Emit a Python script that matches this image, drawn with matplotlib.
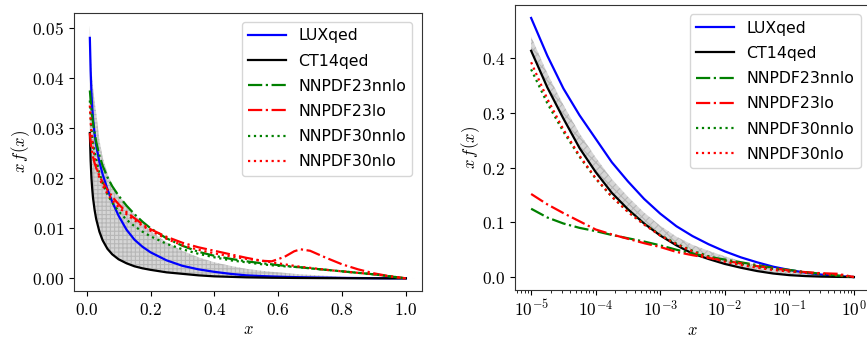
import numpy as np
import matplotlib
matplotlib.use("Agg")
import matplotlib.pyplot as plt
from matplotlib.ticker import FuncFormatter

plt.rcParams['mathtext.fontset'] = 'cm'
plt.rcParams['font.family'] = ['DejaVu Sans']
plt.rcParams['hatch.color'] = '#8f8f8f'
plt.rcParams['hatch.linewidth'] = 0.8

labels = ["LUXqed", "CT14qed", "NNPDF23nnlo", "NNPDF23lo", "NNPDF30nnlo", "NNPDF30nlo"]

# ---------------- left panel (linear x) ----------------
xl = [0.01, 0.0125, 0.015, 0.0175, 0.02, 0.025, 0.03, 0.04, 0.05, 0.065, 0.08, 0.1, 0.125, 0.15,
      0.175, 0.2, 0.25, 0.3, 0.35, 0.4, 0.45, 0.5, 0.55, 0.58, 0.62, 0.65, 0.67, 0.7, 0.75, 0.8,
      0.85, 0.9, 0.95, 1.0]
lux_l   = [0.0480, 0.0415, 0.0370, 0.0340, 0.0318, 0.0288, 0.0265, 0.0232, 0.0208, 0.0178, 0.0153,
           0.0125, 0.0097, 0.0077, 0.0063, 0.0052, 0.0036, 0.0025, 0.0018, 0.0013, 0.0009, 0.0006,
           0.00045, 0.00038, 0.0003, 0.00025, 0.00022, 0.00018, 0.00013, 0.00009, 0.00006, 0.00003,
           0.00001, 0.0]
ct14_l  = [0.0290, 0.0235, 0.0200, 0.0178, 0.0160, 0.0136, 0.0118, 0.0093, 0.0076, 0.0059, 0.0048,
           0.0038, 0.0030, 0.0024, 0.0020, 0.0017, 0.0012, 0.0009, 0.0006, 0.0004, 0.0003, 0.0002,
           0.00015, 0.00012, 0.0001, 0.00008, 0.00007, 0.00006, 0.00004, 0.00003, 0.00002, 0.00001,
           0.0, 0.0]
n23nnlo = [0.0375, 0.0355, 0.0338, 0.0323, 0.0310, 0.0290, 0.0272, 0.0245, 0.0225, 0.0202, 0.0184,
           0.0165, 0.0145, 0.0128, 0.0113, 0.0100, 0.0080, 0.0065, 0.0053, 0.0045, 0.0039, 0.0034,
           0.0030, 0.0028, 0.0025, 0.0023, 0.0022, 0.0020, 0.0017, 0.0014, 0.0011, 0.0008, 0.0004, 0.0]
n23lo   = [0.0290, 0.0272, 0.0260, 0.0250, 0.0242, 0.0230, 0.0220, 0.0205, 0.0192, 0.0177, 0.0163,
           0.0148, 0.0132, 0.0120, 0.0108, 0.0098, 0.0083, 0.0071, 0.0062, 0.0055, 0.0048, 0.0041,
           0.0035, 0.0034, 0.0043, 0.0054, 0.0058, 0.0055, 0.0041, 0.0028, 0.0018, 0.0010, 0.0004, 0.0]
n30nnlo = [0.0355, 0.0325, 0.0300, 0.0283, 0.0270, 0.0252, 0.0238, 0.0210, 0.0190, 0.0168, 0.0151,
           0.0134, 0.0117, 0.0104, 0.0093, 0.0084, 0.0069, 0.0058, 0.0049, 0.0042, 0.0036, 0.0032,
           0.0028, 0.0026, 0.0024, 0.0023, 0.0022, 0.0020, 0.0017, 0.0014, 0.0011, 0.0008, 0.0004, 0.0]
n30nlo  = [0.0345, 0.0312, 0.0290, 0.0273, 0.0260, 0.0240, 0.0225, 0.0200, 0.0185, 0.0169, 0.0156,
           0.0142, 0.0128, 0.0116, 0.0105, 0.0095, 0.0079, 0.0066, 0.0057, 0.0050, 0.0044, 0.0039,
           0.0035, 0.0032, 0.0028, 0.0025, 0.0023, 0.0021, 0.0017, 0.0014, 0.0011, 0.0008, 0.0004, 0.0]
band_lo_l = ct14_l
band_hi_l = [0.0505, 0.0455, 0.0420, 0.0398, 0.0380, 0.0352, 0.0330, 0.0276, 0.0242, 0.0210, 0.0186,
             0.0165, 0.0147, 0.0128, 0.0110, 0.0095, 0.0072, 0.0055, 0.0042, 0.0032, 0.0025, 0.0019,
             0.0015, 0.0013, 0.0011, 0.0009, 0.0008, 0.0007, 0.0005, 0.0003, 0.0002, 0.0001, 0.00005, 0.0]

# ---------------- right panel (log x) ----------------
xr = [1e-5, 1.78e-5, 3.16e-5, 5.62e-5, 1e-4, 1.78e-4, 3.16e-4, 5.62e-4, 1e-3, 1.78e-3, 3.16e-3,
      5.62e-3, 1e-2, 1.78e-2, 3.16e-2, 5.62e-2, 1e-1, 1.78e-1, 3.16e-1, 5.62e-1, 1.0]
lux_r   = [0.474, 0.405, 0.345, 0.296, 0.253, 0.210, 0.175, 0.143, 0.116, 0.093, 0.075, 0.060,
           0.047, 0.036, 0.027, 0.019, 0.013, 0.008, 0.0045, 0.0018, 0.0]
ct14_r  = [0.414, 0.347, 0.290, 0.236, 0.192, 0.154, 0.124, 0.098, 0.076, 0.058, 0.043, 0.033,
           0.024, 0.017, 0.011, 0.0065, 0.0035, 0.0018, 0.0008, 0.0003, 0.0]
n23nnlo_r = [0.125, 0.109, 0.098, 0.090, 0.084, 0.077, 0.071, 0.065, 0.058, 0.050, 0.043, 0.037,
             0.032, 0.027, 0.022, 0.017, 0.013, 0.009, 0.006, 0.003, 0.0]
n23lo_r = [0.152, 0.133, 0.117, 0.102, 0.087, 0.078, 0.070, 0.062, 0.055, 0.046, 0.040, 0.035,
           0.030, 0.025, 0.020, 0.016, 0.012, 0.009, 0.007, 0.006, 0.0]
n30nnlo_r = [0.380, 0.318, 0.266, 0.220, 0.180, 0.147, 0.120, 0.097, 0.077, 0.061, 0.048, 0.038,
             0.030, 0.024, 0.019, 0.015, 0.011, 0.008, 0.005, 0.0025, 0.0]
n30nlo_r = [0.393, 0.326, 0.270, 0.222, 0.181, 0.147, 0.119, 0.096, 0.076, 0.060, 0.047, 0.036,
            0.028, 0.022, 0.017, 0.013, 0.010, 0.008, 0.006, 0.004, 0.0]
band_lo_r = ct14_r
band_hi_r = [0.440, 0.373, 0.315, 0.263, 0.219, 0.179, 0.147, 0.118, 0.094, 0.074, 0.059, 0.048,
             0.038, 0.029, 0.022, 0.016, 0.011, 0.0068, 0.0038, 0.0015, 0.0]

styles = [dict(color='blue', ls='-'), dict(color='black', ls='-'),
          dict(color='green', ls='-.'), dict(color='red', ls='-.'),
          dict(color='green', ls=':'), dict(color='red', ls=':')]

fig = plt.figure(figsize=(8.67, 3.39), dpi=100)
ax1 = fig.add_axes([0.0854, 0.1416, 0.401, 0.821])
ax2 = fig.add_axes([0.594, 0.1445, 0.4095, 0.8407])

def draw(ax, x, series, lo, hi, hatch):
    ax.fill_between(x, lo, hi, facecolor=(0.55, 0.55, 0.55, 0.35), edgecolor=(0.6, 0.6, 0.6, 0.5),
                    hatch=hatch, linewidth=0.0)
    for s, lab, st in zip(series, labels, styles):
        ax.plot(x, s, label=lab, lw=1.6, **st)
    ax.legend(loc='upper right', fontsize=11.3, handlelength=2.4, borderaxespad=0.6,
              labelspacing=0.65, framealpha=0.8, fancybox=True)
    ax.set_xlabel(r'$x$', fontsize=12, labelpad=1)
    ax.set_ylabel(r'$x\,f(x)$', fontsize=12, labelpad=0)

draw(ax1, xl, [lux_l, ct14_l, n23nnlo, n23lo, n30nnlo, n30nlo], band_lo_l, band_hi_l, '++++')
draw(ax2, xr, [lux_r, ct14_r, n23nnlo_r, n23lo_r, n30nnlo_r, n30nlo_r], band_lo_r, band_hi_r, 'xxxx')

ax1.set_xticks([0.0, 0.2, 0.4, 0.6, 0.8, 1.0])
ax1.set_yticks([0.0, 0.01, 0.02, 0.03, 0.04, 0.05])
ax1.xaxis.set_major_formatter(FuncFormatter(lambda v, p: r'$%.1f$' % v))
ax1.yaxis.set_major_formatter(FuncFormatter(lambda v, p: r'$%.2f$' % v))

ax2.set_xscale('log')
ax2.set_xticks([1e-5, 1e-4, 1e-3, 1e-2, 1e-1, 1e0])
ax2.xaxis.set_major_formatter(FuncFormatter(lambda v, p: r'$10^{%d}$' % int(round(np.log10(v)))))
ax2.set_yticks([0.0, 0.1, 0.2, 0.3, 0.4])
ax2.yaxis.set_major_formatter(FuncFormatter(lambda v, p: r'$%.1f$' % v))

for ax in (ax1, ax2):
    ax.tick_params(labelsize=12.5)
    for sp in ax.spines.values():
        sp.set_color('#333333')

fig.savefig('out.png', dpi=100)
